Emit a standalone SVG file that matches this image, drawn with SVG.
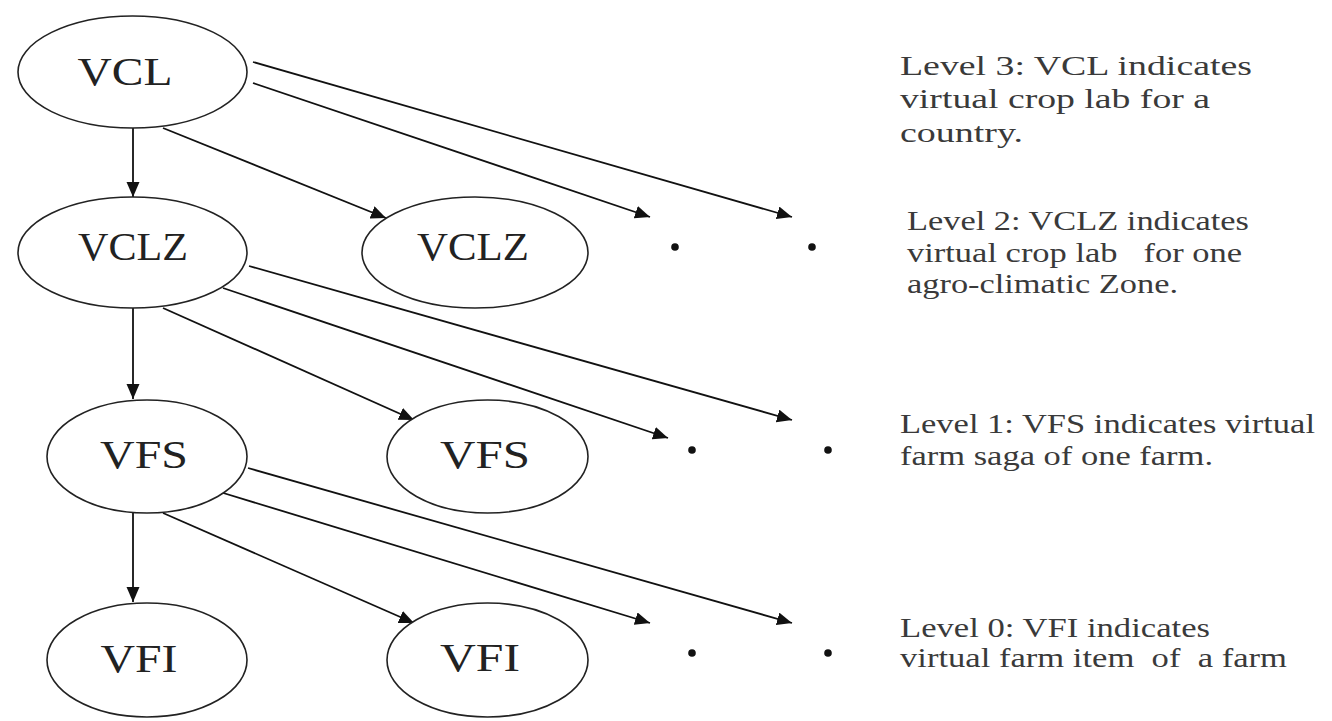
<svg xmlns="http://www.w3.org/2000/svg" width="1332" height="721" viewBox="0 0 1332 721">
<style>
.node{fill:#fff;stroke:#222;stroke-width:1.6}
.nt{font-family:"Liberation Serif","Times New Roman",serif;font-size:39px;fill:#222;text-anchor:middle}
.lt{font-family:"Liberation Serif","Times New Roman",serif;font-size:27px;fill:#3a3a3a;white-space:pre}
.edge{stroke:#111;stroke-width:1.8;fill:none;marker-end:url(#ah)}
.dot{fill:#111}
</style>
<defs>
<marker id="ah" markerWidth="16" markerHeight="14" refX="15" refY="6.5" orient="auto" markerUnits="userSpaceOnUse">
<path d="M0,0 L15,6.5 L0,13 Z" fill="#111"/>
</marker>
</defs>
<rect width="1332" height="721" fill="#fff"/>
<g id="connectors">
<line class="edge" x1="133" y1="128" x2="133" y2="197"/>
<line class="edge" x1="163" y1="128" x2="386" y2="218"/>
<line class="edge" x1="253" y1="83" x2="650" y2="217"/>
<line class="edge" x1="253" y1="62" x2="792" y2="217"/>
<line class="edge" x1="133" y1="308" x2="133" y2="399"/>
<line class="edge" x1="163" y1="308" x2="414" y2="420"/>
<line class="edge" x1="223" y1="288" x2="668" y2="438"/>
<line class="edge" x1="249" y1="266" x2="792" y2="420"/>
<line class="edge" x1="133" y1="513" x2="133" y2="602"/>
<line class="edge" x1="163" y1="513" x2="414" y2="623"/>
<line class="edge" x1="220" y1="492" x2="650" y2="623"/>
<line class="edge" x1="248" y1="468" x2="792" y2="623"/>
</g>
<g id="vcl"><ellipse class="node" cx="132.5" cy="72" rx="114.5" ry="56"/><text class="nt" x="125" y="85" textLength="95" lengthAdjust="spacingAndGlyphs">VCL</text></g>
<g id="vclz1"><ellipse class="node" cx="132.5" cy="252.5" rx="114.5" ry="55.5"/><text class="nt" x="133" y="260" textLength="110" lengthAdjust="spacingAndGlyphs">VCLZ</text></g>
<g id="vclz2"><ellipse class="node" cx="475" cy="252.5" rx="113" ry="55.5"/><text class="nt" x="473" y="260" textLength="112" lengthAdjust="spacingAndGlyphs">VCLZ</text></g>
<g id="vfs1"><ellipse class="node" cx="147" cy="456.5" rx="100" ry="56.5"/><text class="nt" x="144" y="468" textLength="88" lengthAdjust="spacingAndGlyphs">VFS</text></g>
<g id="vfs2"><ellipse class="node" cx="487.5" cy="456.5" rx="100.5" ry="56.5"/><text class="nt" x="485" y="468" textLength="90" lengthAdjust="spacingAndGlyphs">VFS</text></g>
<g id="vfi1"><ellipse class="node" cx="147" cy="660" rx="100" ry="57"/><text class="nt" x="139" y="672" textLength="77" lengthAdjust="spacingAndGlyphs">VFI</text></g>
<g id="vfi2"><ellipse class="node" cx="487.5" cy="660" rx="100.5" ry="57"/><text class="nt" x="480" y="671" textLength="80" lengthAdjust="spacingAndGlyphs">VFI</text></g>
<g id="dots">
<circle class="dot" cx="675" cy="247" r="3.8"/>
<circle class="dot" cx="812" cy="247" r="3.8"/>
<circle class="dot" cx="692" cy="450" r="3.8"/>
<circle class="dot" cx="828" cy="450" r="3.8"/>
<circle class="dot" cx="692" cy="653" r="3.8"/>
<circle class="dot" cx="828" cy="653" r="3.8"/>
</g>
<g id="legend3">
<text class="lt" x="900" y="75" textLength="352" lengthAdjust="spacingAndGlyphs">Level 3: VCL indicates</text>
<text class="lt" x="900" y="108" textLength="310" lengthAdjust="spacingAndGlyphs">virtual crop lab for a</text>
<text class="lt" x="900" y="142" textLength="123" lengthAdjust="spacingAndGlyphs">country.</text>
</g>
<g id="legend2">
<text class="lt" x="907" y="230" textLength="342" lengthAdjust="spacingAndGlyphs">Level 2: VCLZ indicates</text>
<text class="lt" x="907" y="262" textLength="335" lengthAdjust="spacingAndGlyphs">virtual crop lab   for one</text>
<text class="lt" x="907" y="293" textLength="271" lengthAdjust="spacingAndGlyphs">agro-climatic Zone.</text>
</g>
<g id="legend1">
<text class="lt" x="900" y="433" textLength="415" lengthAdjust="spacingAndGlyphs">Level 1: VFS indicates virtual</text>
<text class="lt" x="900" y="465" textLength="313" lengthAdjust="spacingAndGlyphs">farm saga of one farm.</text>
</g>
<g id="legend0">
<text class="lt" x="900" y="637" textLength="310" lengthAdjust="spacingAndGlyphs">Level 0: VFI indicates</text>
<text class="lt" x="900" y="667" textLength="387" lengthAdjust="spacingAndGlyphs">virtual farm item  of  a farm</text>
</g>
</svg>
